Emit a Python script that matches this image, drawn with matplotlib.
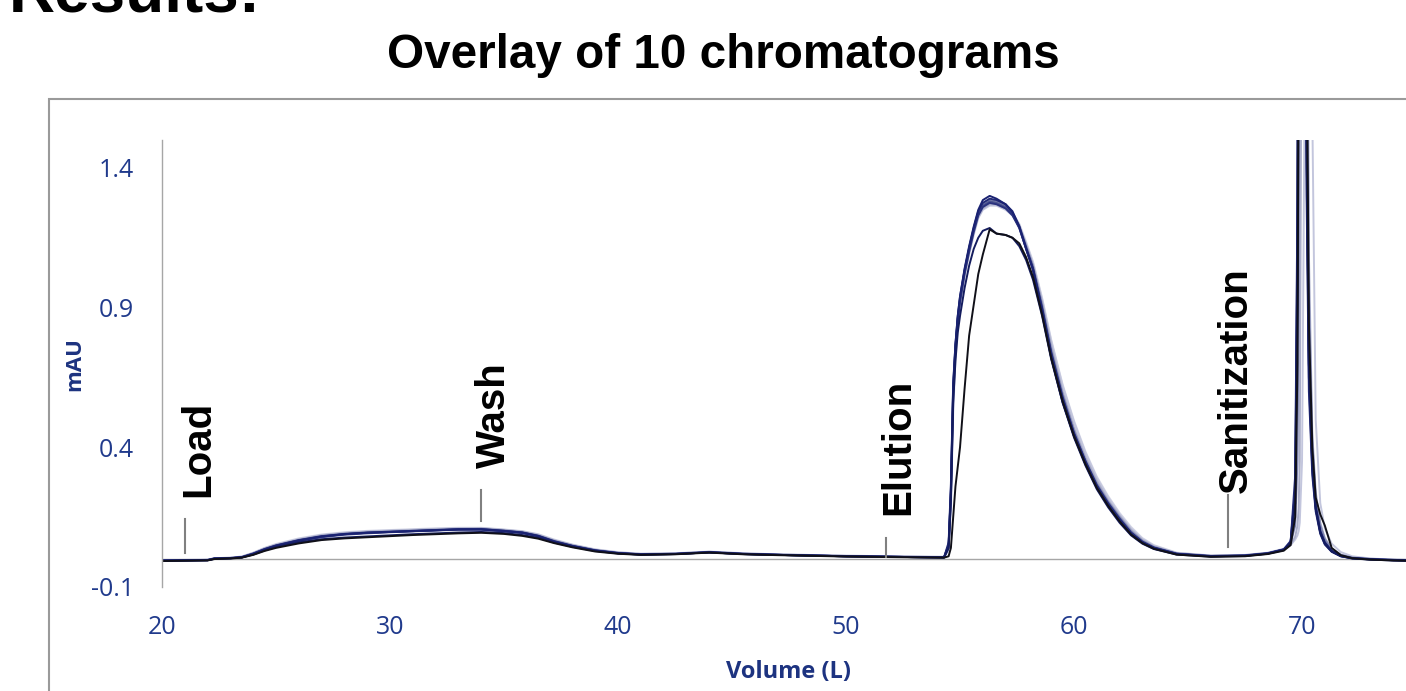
'''
    overlay of 10 chromatograms (load / wash / elution / sanitization)
'''
import matplotlib
matplotlib.use('Agg')
from matplotlib import pyplot as plt
from matplotlib.patches import Rectangle

# volume grid (L), shared by all runs
vol = [20.0, 21.0, 22.0, 22.3, 23.0, 23.5, 24.0, 24.5, 25.0, 26.0,
       27.0, 28.0, 29.0, 30.0, 31.0, 32.0, 33.0, 34.0, 35.0, 35.8,
       36.5, 37.2, 38.0, 39.0, 40.0, 41.0, 42.5, 44.0, 45.5, 47.0,
       50.0, 53.0, 54.3, 54.5, 54.6, 54.7, 54.8, 54.9, 55.0, 55.2,
       55.4, 55.6, 55.8, 56.0, 56.3, 56.6, 57.0, 57.3, 57.6, 57.9,
       58.2, 58.6, 59.0, 59.5, 60.0, 60.5, 61.0, 61.5, 62.0, 62.5,
       63.0, 63.5, 64.5, 66.0, 67.5, 68.5, 69.2, 69.5, 69.7, 69.8,
       69.85, 69.9, 70.0, 70.1, 70.2, 70.3, 70.45, 70.6, 70.8, 71.0,
       71.3, 71.7, 72.2, 73.0, 74.0, 74.6]

# absorbance (mAU) of each run
run_a = [-0.006, -0.005, -0.004, 0.002, 0.003, 0.006, 0.018, 0.034, 0.047, 0.066,
         0.080, 0.089, 0.094, 0.097, 0.100, 0.103, 0.106, 0.106, 0.100, 0.094,
         0.082, 0.062, 0.046, 0.030, 0.021, 0.016, 0.018, 0.024, 0.018, 0.015,
         0.010, 0.007, 0.006, 0.05, 0.25, 0.62, 0.77, 0.87, 0.94, 1.04,
         1.12, 1.19, 1.25, 1.285, 1.30, 1.29, 1.27, 1.245, 1.19, 1.11,
         1.035, 0.885, 0.72, 0.56, 0.44, 0.34, 0.255, 0.19, 0.135, 0.088,
         0.058, 0.038, 0.018, 0.010, 0.012, 0.020, 0.034, 0.06, 0.20, 0.9,
         2.2, 4.0, 7.0, 4.0, 1.6, 0.75, 0.35, 0.19, 0.10, 0.06,
         0.03, 0.012, 0.004, 0.0, -0.003, -0.004]
run_b = [-0.005, -0.004, -0.003, 0.002, 0.004, 0.007, 0.020, 0.036, 0.049, 0.068,
         0.082, 0.090, 0.095, 0.098, 0.101, 0.104, 0.107, 0.107, 0.101, 0.095,
         0.083, 0.064, 0.047, 0.031, 0.022, 0.017, 0.019, 0.025, 0.019, 0.015,
         0.010, 0.007, 0.006, 0.04, 0.22, 0.58, 0.75, 0.85, 0.92, 1.02,
         1.10, 1.17, 1.23, 1.26, 1.275, 1.27, 1.255, 1.23, 1.185, 1.11,
         1.04, 0.90, 0.74, 0.58, 0.45, 0.35, 0.265, 0.20, 0.145, 0.095,
         0.062, 0.041, 0.019, 0.011, 0.013, 0.021, 0.035, 0.065, 0.25, 1.1,
         2.6, 4.5, 7.0, 3.6, 1.4, 0.65, 0.32, 0.18, 0.095, 0.055,
         0.028, 0.011, 0.003, -0.001, -0.004, -0.005]
run_c = [-0.004, -0.003, -0.002, 0.003, 0.005, 0.009, 0.022, 0.039, 0.052, 0.072,
         0.086, 0.094, 0.099, 0.102, 0.105, 0.108, 0.110, 0.111, 0.105, 0.099,
         0.088, 0.068, 0.051, 0.034, 0.024, 0.019, 0.020, 0.026, 0.020, 0.017,
         0.012, 0.009, 0.008, 0.03, 0.18, 0.52, 0.72, 0.83, 0.91, 1.01,
         1.09, 1.16, 1.22, 1.25, 1.265, 1.265, 1.25, 1.23, 1.19, 1.13,
         1.06, 0.93, 0.78, 0.62, 0.49, 0.38, 0.29, 0.22, 0.16, 0.11,
         0.072, 0.048, 0.022, 0.012, 0.014, 0.022, 0.036, 0.05, 0.07, 0.085,
         0.10, 0.13, 0.35, 1.5, 5.0, 6.5, 1.6, 0.5, 0.2, 0.11,
         0.055, 0.025, 0.010, 0.002, -0.002, -0.003]
run_d = [-0.006, -0.005, -0.004, 0.001, 0.003, 0.006, 0.019, 0.035, 0.048, 0.067,
         0.081, 0.090, 0.095, 0.098, 0.101, 0.104, 0.107, 0.108, 0.102, 0.096,
         0.084, 0.065, 0.048, 0.032, 0.022, 0.017, 0.019, 0.025, 0.019, 0.016,
         0.011, 0.008, 0.007, 0.05, 0.24, 0.60, 0.76, 0.86, 0.93, 1.03,
         1.11, 1.18, 1.24, 1.27, 1.285, 1.28, 1.265, 1.24, 1.195, 1.12,
         1.05, 0.91, 0.75, 0.59, 0.46, 0.355, 0.27, 0.205, 0.15, 0.10,
         0.065, 0.043, 0.020, 0.011, 0.013, 0.021, 0.034, 0.055, 0.12, 0.35,
         0.9, 2.5, 7.0, 5.0, 2.2, 0.95, 0.42, 0.22, 0.12, 0.07,
         0.035, 0.015, 0.005, 0.0, -0.003, -0.004]
run_e = [-0.007, -0.006, -0.005, 0.000, 0.002, 0.005, 0.015, 0.029, 0.040, 0.056,
         0.068, 0.074, 0.078, 0.082, 0.086, 0.089, 0.092, 0.094, 0.090, 0.083,
         0.073, 0.057, 0.042, 0.027, 0.019, 0.015, 0.017, 0.023, 0.017, 0.014,
         0.009, 0.006, 0.005, 0.01, 0.04, 0.15, 0.26, 0.33, 0.40, 0.61,
         0.80, 0.91, 1.02, 1.09, 1.18, 1.165, 1.16, 1.15, 1.13, 1.08,
         1.01, 0.875, 0.72, 0.565, 0.44, 0.34, 0.255, 0.19, 0.135, 0.088,
         0.057, 0.037, 0.016, 0.008, 0.010, 0.018, 0.030, 0.05, 0.15, 0.7,
         1.8, 3.5, 7.0, 4.5, 1.9, 0.85, 0.40, 0.22, 0.16, 0.12,
         0.04, 0.014, 0.003, -0.002, -0.005, -0.006]
run_f = [-0.006, -0.005, -0.004, 0.001, 0.003, 0.006, 0.016, 0.031, 0.043, 0.060,
         0.071, 0.077, 0.081, 0.085, 0.089, 0.092, 0.095, 0.097, 0.093, 0.086,
         0.076, 0.059, 0.044, 0.029, 0.020, 0.016, 0.018, 0.024, 0.018, 0.015,
         0.010, 0.007, 0.006, 0.04, 0.21, 0.56, 0.71, 0.81, 0.87, 0.97,
         1.05, 1.11, 1.15, 1.175, 1.185, 1.165, 1.16, 1.15, 1.12, 1.07,
         1.00, 0.87, 0.715, 0.56, 0.435, 0.335, 0.25, 0.185, 0.13, 0.085,
         0.055, 0.036, 0.016, 0.009, 0.011, 0.019, 0.032, 0.06, 0.22, 1.0,
         2.4, 4.2, 7.0, 3.8, 1.5, 0.7, 0.33, 0.18, 0.095, 0.055,
         0.027, 0.010, 0.002, -0.002, -0.005, -0.006]
run_g = [-0.005, -0.004, -0.003, 0.003, 0.004, 0.008, 0.021, 0.038, 0.051, 0.070,
         0.085, 0.093, 0.098, 0.101, 0.104, 0.107, 0.109, 0.110, 0.104, 0.098,
         0.086, 0.067, 0.050, 0.033, 0.023, 0.018, 0.020, 0.026, 0.020, 0.016,
         0.011, 0.008, 0.007, 0.04, 0.20, 0.55, 0.74, 0.85, 0.92, 1.02,
         1.10, 1.17, 1.225, 1.255, 1.27, 1.27, 1.255, 1.235, 1.19, 1.125,
         1.05, 0.92, 0.765, 0.60, 0.47, 0.365, 0.28, 0.21, 0.155, 0.105,
         0.068, 0.045, 0.021, 0.012, 0.014, 0.022, 0.035, 0.05, 0.08, 0.12,
         0.18, 0.35, 2.5, 7.0, 3.0, 1.1, 0.45, 0.24, 0.13, 0.075,
         0.038, 0.016, 0.006, 0.001, -0.002, -0.003]
run_h = [-0.005, -0.004, -0.004, 0.002, 0.003, 0.007, 0.019, 0.035, 0.048, 0.067,
         0.081, 0.089, 0.094, 0.097, 0.100, 0.103, 0.106, 0.107, 0.101, 0.095,
         0.083, 0.063, 0.047, 0.031, 0.021, 0.017, 0.018, 0.024, 0.018, 0.015,
         0.010, 0.007, 0.006, 0.06, 0.27, 0.63, 0.77, 0.87, 0.94, 1.035,
         1.115, 1.185, 1.245, 1.275, 1.29, 1.285, 1.27, 1.24, 1.19, 1.115,
         1.04, 0.895, 0.735, 0.575, 0.45, 0.35, 0.262, 0.197, 0.142, 0.094,
         0.061, 0.041, 0.019, 0.010, 0.012, 0.020, 0.034, 0.06, 0.3, 1.3,
         3.0, 5.0, 7.0, 3.4, 1.3, 0.6, 0.3, 0.17, 0.09, 0.052,
         0.026, 0.010, 0.003, -0.001, -0.004, -0.005]
run_i = [-0.004, -0.003, -0.002, 0.003, 0.005, 0.009, 0.023, 0.040, 0.054, 0.074,
         0.088, 0.096, 0.101, 0.104, 0.107, 0.110, 0.112, 0.112, 0.106, 0.100,
         0.089, 0.070, 0.052, 0.035, 0.025, 0.019, 0.021, 0.027, 0.021, 0.017,
         0.012, 0.009, 0.008, 0.05, 0.23, 0.59, 0.75, 0.86, 0.93, 1.03,
         1.11, 1.18, 1.235, 1.265, 1.28, 1.275, 1.26, 1.24, 1.20, 1.135,
         1.065, 0.935, 0.785, 0.625, 0.495, 0.385, 0.295, 0.225, 0.165, 0.115,
         0.075, 0.05, 0.023, 0.013, 0.015, 0.023, 0.037, 0.06, 0.15, 0.6,
         1.6, 3.2, 7.0, 4.6, 2.0, 0.9, 0.42, 0.23, 0.12, 0.07,
         0.036, 0.015, 0.006, 0.001, -0.002, -0.003]
run_j = [-0.006, -0.005, -0.004, 0.001, 0.003, 0.006, 0.017, 0.033, 0.046, 0.064,
         0.078, 0.087, 0.092, 0.096, 0.099, 0.102, 0.105, 0.105, 0.099, 0.093,
         0.081, 0.062, 0.046, 0.030, 0.021, 0.016, 0.018, 0.024, 0.018, 0.015,
         0.010, 0.007, 0.006, 0.05, 0.24, 0.61, 0.76, 0.86, 0.93, 1.03,
         1.11, 1.18, 1.235, 1.265, 1.28, 1.275, 1.26, 1.235, 1.185, 1.11,
         1.035, 0.89, 0.73, 0.57, 0.445, 0.345, 0.26, 0.195, 0.14, 0.092,
         0.060, 0.040, 0.018, 0.010, 0.012, 0.020, 0.034, 0.06, 0.25, 1.2,
         2.8, 4.8, 7.0, 3.7, 1.5, 0.7, 0.34, 0.19, 0.1, 0.058,
         0.029, 0.011, 0.003, -0.001, -0.004, -0.005]

# drawn light first, dark on top
runs = [run_i, run_c, run_g, run_d, run_j, run_b, run_h, run_a, run_f, run_e]
run_colors = ['#d3d5e6', '#c3c6dd', '#a9adc9', '#7c82ad', '#4c548f',
              '#2a327e', '#222a76', '#1a2272', '#141c5e', '#101018']

phase_names = ['Load', 'Wash', 'Elution', 'Sanitization']
phase_vol = [21.0, 34.0, 51.75, 66.75]

x_ticks = [20, 30, 40, 50, 60, 70]
y_ticks = [-0.1, 0.4, 0.9, 1.4]
y_tick_labels = ['-0.1', '0.4', '0.9', '1.4']

TICK_BLUE = '#203a8c'
LABEL_BLUE = '#1d3380'
W, H = 1406, 691

fig = plt.figure(figsize=(W / 100, H / 100), dpi=100)
ax = fig.add_axes([162 / W, 1 - 587 / H, 1 - 162 / W, (587 - 140) / H])

# outer grey frame (runs off the page right and bottom)
fig.patches.append(Rectangle((49 / W, -0.1), 2, 1 - 99 / H + 0.1,
                             transform=fig.transFigure, fill=False,
                             ec='#9a9a9a', lw=1.5))

ax.axhline(0, color='#a6a6a6', lw=1.0, zorder=1)
for y, c in zip(runs, run_colors):
    ax.plot(vol, y, color=c, lw=1.4, zorder=2)

# phase markers
tick_lo = [0.02, 0.138, 0.009, 0.042]
tick_hi = [0.142, 0.246, 0.077, 0.231]
text_x = [21.6, 34.55, 52.3, 67.08]
text_y = [0.221, 0.325, 0.156, 0.235]
for i, name in enumerate(phase_names):
    ax.plot([phase_vol[i], phase_vol[i]], [tick_lo[i], tick_hi[i]],
            color='#808080', lw=1.5, zorder=3)
    ax.text(text_x[i], text_y[i], name, rotation=90, ha='center', va='bottom',
            fontsize=29, fontweight='bold', family='Liberation Sans')

ax.set_xlim(20, 74.56)
ax.set_ylim(-0.1, 1.5)
ax.set_xticks(x_ticks)
ax.set_yticks(y_ticks, labels=y_tick_labels)
for s in ['top', 'right', 'bottom']:
    ax.spines[s].set_visible(False)
ax.spines['left'].set_color('#a6a6a6')
ax.spines['left'].set_linewidth(1.0)
ax.tick_params(axis='both', length=0, labelsize=18, labelcolor=TICK_BLUE)
ax.tick_params(axis='y', pad=20)
ax.tick_params(axis='x', pad=20)
for lab in ax.get_xticklabels() + ax.get_yticklabels():
    lab.set_family('Open Sans')

fig.text(75 / W, 1 - 364 / H, 'mAU', rotation=90, ha='center', va='center',
         fontsize=16, fontweight='bold', color=LABEL_BLUE, family='Open Sans')
fig.text(789 / W, 1 - 672 / H, 'Volume (L)', ha='center', va='center',
         fontsize=17, fontweight='bold', color=LABEL_BLUE, family='Open Sans')

fig.text(723 / W, 1 - 55 / H, 'Overlay of 10 chromatograms', ha='center',
         va='center', fontsize=34.3, fontweight='bold', family='Liberation Sans')
fig.text(9 / W, 1 - 12 / H, 'Results:', ha='left', va='baseline',
         fontsize=46, fontweight='bold', family='Liberation Sans')

fig.savefig('out.png', dpi=100)
